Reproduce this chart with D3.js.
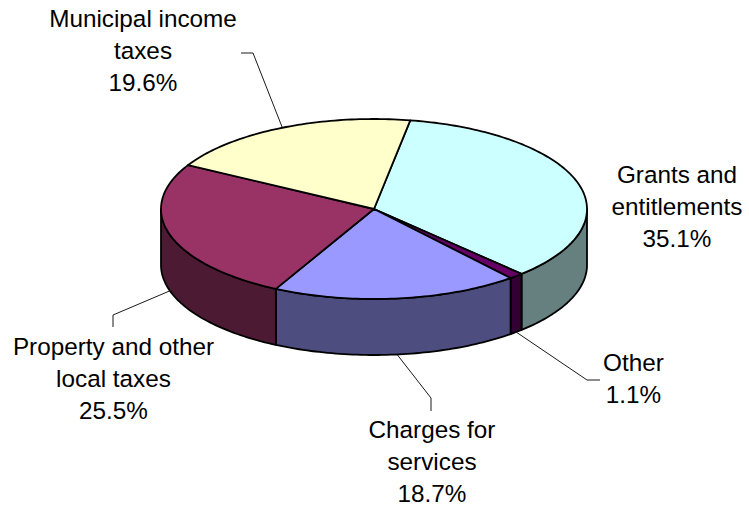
<!DOCTYPE html>
<html>
<head>
<meta charset="utf-8">
<script src="https://cdn.jsdelivr.net/npm/d3@7"></script>
<style>
  html, body { margin: 0; padding: 0; background: #fff; }
  svg { display: block; }
  text { font-family: "Liberation Sans", Arial, sans-serif; font-size: 24.3px; fill: #000; text-anchor: middle; }
</style>
</head>
<body>
<svg id="chart" width="749" height="507"></svg>
<script>
// Municipal revenue shares, clockwise from the top of the pie
const categories = ["Grants and entitlements", "Other", "Charges for services", "Property and other local taxes", "Municipal income taxes"];
const shares = [35.1, 1.1, 18.7, 25.5, 19.6];
const topColors = ["#CCFFFF", "#660066", "#9999FF", "#993366", "#FFFFCC"];
const wallColors = ["#668080", "#330033", "#4D4D80", "#4D1A33", "#808066"];
const labelLines = [["Grants and", "entitlements"], ["Other"], ["Charges for", "services"], ["Property and other", "local taxes"], ["Municipal income", "taxes"]];

// Ellipse geometry of the tilted disc
const cx = 374, cy = 209, rx = 213, ry = 90, depth = 56;
const startAngle = 9.8 * Math.PI / 180;

// Label centres with the first-line baseline, and the elbow points of each leader
const labelPos = [[677, 183], [633.5, 371], [432, 437.5], [113.5, 355], [143, 27]];
const leaders = [null, [[587, 380], [600, 380]], [[431, 398], [431, 411]], [[113, 315], [113, 327]], [[253, 53], [241, 53]]];
const lineHeight = 32;

const svg = d3.select("#chart");
const arcs = d3.pie().sort(null).value(d => d)
  .startAngle(startAngle).endAngle(startAngle + 2 * Math.PI)(shares);

const px = a => cx + rx * Math.sin(a);
const py = (a, drop = 0) => cy - ry * Math.cos(a) + drop;

// Sampled points along the rim between two angles
function rim(a0, a1, drop = 0) {
  const n = Math.max(2, Math.ceil(Math.abs(a1 - a0) / 0.02));
  return d3.range(n + 1).map(i => {
    const a = a0 + (a1 - a0) * i / n;
    return [px(a), py(a, drop)];
  });
}
const line = d3.line();

// Outer walls: only the front half of the rim is visible
const frontStart = Math.PI / 2, frontEnd = 3 * Math.PI / 2;
svg.append("g").selectAll("path")
  .data(arcs.filter(d => d.endAngle > frontStart && d.startAngle < frontEnd))
  .join("path")
  .attr("d", d => {
    const a0 = Math.max(d.startAngle, frontStart), a1 = Math.min(d.endAngle, frontEnd);
    return line(rim(a0, a1).concat(rim(a1, a0, depth))) + "Z";
  })
  .attr("fill", d => wallColors[d.index])
  .attr("stroke", "#000").attr("stroke-width", 1.8).attr("stroke-linejoin", "round");

// Top faces
svg.append("g").selectAll("path")
  .data(arcs)
  .join("path")
  .attr("d", d => line([[cx, cy]].concat(rim(d.startAngle, d.endAngle))) + "Z")
  .attr("fill", d => topColors[d.index])
  .attr("stroke", "#000").attr("stroke-width", 1.8).attr("stroke-linejoin", "round");

// Leader lines run from the middle of each slice's visible edge
svg.append("g").selectAll("path")
  .data(arcs.filter(d => leaders[d.index]))
  .join("path")
  .attr("d", d => {
    const mid = (d.startAngle + d.endAngle) / 2;
    const onFront = mid > frontStart && mid < frontEnd;
    return line([[px(mid), py(mid, onFront ? depth : 0)]].concat(leaders[d.index]));
  })
  .attr("fill", "none").attr("stroke", "#000").attr("stroke-width", 0.9);

// Labels: category lines followed by the share
const labels = svg.append("g").selectAll("text")
  .data(arcs)
  .join("text")
  .attr("x", d => labelPos[d.index][0])
  .attr("y", d => labelPos[d.index][1]);
labels.selectAll("tspan")
  .data(d => labelLines[d.index].concat(d.value.toFixed(1) + "%").map(t => ({ t, x: labelPos[d.index][0] })))
  .join("tspan")
  .attr("x", d => d.x)
  .attr("dy", (d, i) => i ? lineHeight : 0)
  .text(d => d.t);
</script>
</body>
</html>
